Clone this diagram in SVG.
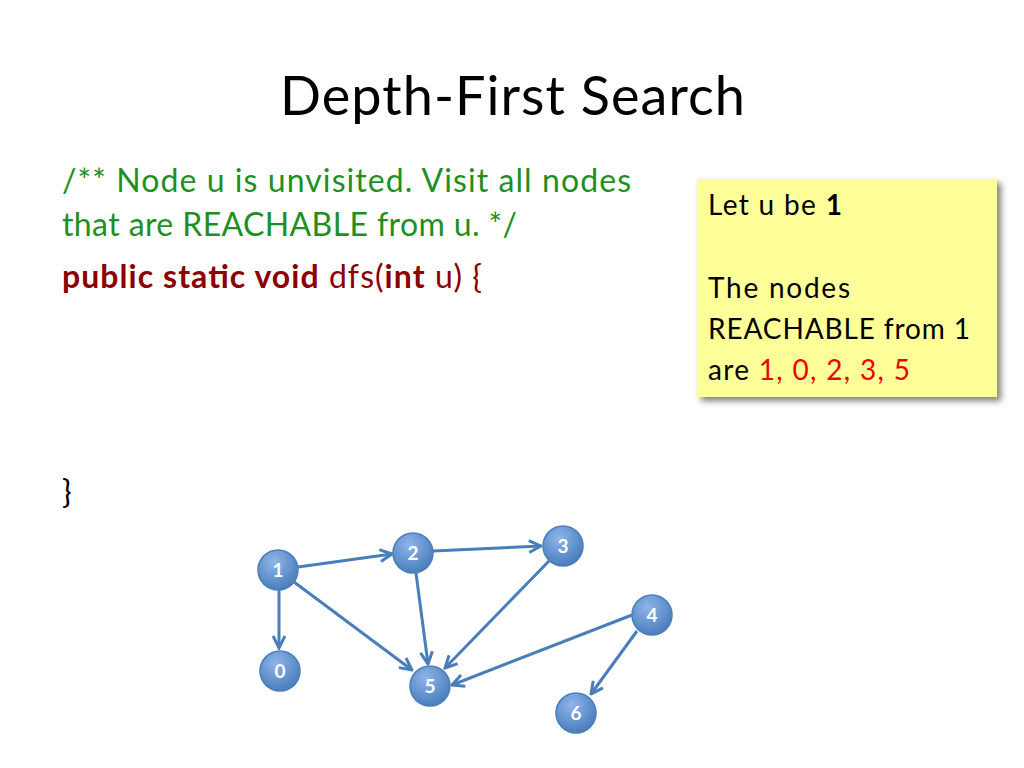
<svg xmlns="http://www.w3.org/2000/svg" width="1024" height="768" viewBox="0 0 1024 768">
<style>
text{font-family:Lato,"Open Sans",sans-serif}
.n circle{fill:url(#g);stroke:#4a7ebb;stroke-width:1.5}
.n text{fill:#fff;font-weight:bold;font-size:19px;text-anchor:middle}
.e line{stroke:#4a7ebb;stroke-width:3;marker-end:url(#a)}
.c{font-size:32px;fill:#1f8f1f}
.k{font-size:32px;fill:#000}
.b{font-size:28px;fill:#000}
</style>
<defs>
<radialGradient id="g" cx="0.4" cy="0.3" r="0.7"><stop offset="0" stop-color="#8fb4ea"/><stop offset="1" stop-color="#4a7ebb"/></radialGradient>
<marker id="a" viewBox="0 0 10 10" refX="9" refY="5" markerWidth="5" markerHeight="5" orient="auto"><path d="M1,1 L9,5 L1,9" fill="none" stroke="#4a7ebb" stroke-width="2"/></marker>
<filter id="s"><feDropShadow dx="4" dy="4" stdDeviation="3" flood-opacity="0.5"/></filter>
</defs>
<rect width="1024" height="768" fill="#fff"/>
<text x="280" y="115" font-size="54" textLength="465" fill="#000">Depth-First Search</text>
<text x="62" y="192" class="c" textLength="569">/** Node u is unvisited. Visit all nodes</text>
<text x="62" y="236" class="c" textLength="455">that are REACHABLE from u. */</text>
<text x="62" y="288" class="k" textLength="420"><tspan fill="#8b0000" font-weight="bold">public static void</tspan><tspan fill="#8b0000"> dfs(</tspan><tspan fill="#8b0000" font-weight="bold">int</tspan><tspan fill="#8b0000"> u) {</tspan></text>
<text x="62" y="503" class="k">}</text>
<g id="box">
<rect x="697" y="179" width="300" height="218" fill="#ffff99" filter="url(#s)"/>
<text x="708" y="215" class="b" textLength="134">Let u be <tspan font-weight="bold">1</tspan></text>
<text x="708" y="298" class="b" textLength="142">The nodes</text>
<text x="708" y="339" class="b" textLength="262">REACHABLE from 1</text>
<text x="708" y="380" class="b" textLength="202">are <tspan fill="#e00">1, 0, 2, 3, 5</tspan></text>
</g>
<g id="edges" class="e">
<line x1="298" y1="567" x2="392" y2="554"/>
<line x1="433" y1="551" x2="541" y2="546"/>
<line x1="279" y1="590" x2="279" y2="648"/>
<line x1="294" y1="582" x2="412" y2="670"/>
<line x1="416" y1="573" x2="428" y2="664"/>
<line x1="549" y1="561" x2="445" y2="668"/>
<line x1="632" y1="615" x2="452" y2="685"/>
<line x1="637" y1="631" x2="591" y2="694"/>
</g>
<g id="n1" class="n"><circle cx="278" cy="570" r="20"/><text x="278" y="577">1</text></g>
<g id="n2" class="n"><circle cx="413" cy="553" r="20"/><text x="413" y="560">2</text></g>
<g id="n3" class="n"><circle cx="563" cy="546" r="20"/><text x="563" y="553">3</text></g>
<g id="n4" class="n"><circle cx="652" cy="615" r="20"/><text x="652" y="622">4</text></g>
<g id="n0" class="n"><circle cx="280" cy="671" r="20"/><text x="280" y="678">0</text></g>
<g id="n5" class="n"><circle cx="430" cy="686" r="20"/><text x="430" y="693">5</text></g>
<g id="n6" class="n"><circle cx="576" cy="713" r="20"/><text x="576" y="720">6</text></g>
</svg>
